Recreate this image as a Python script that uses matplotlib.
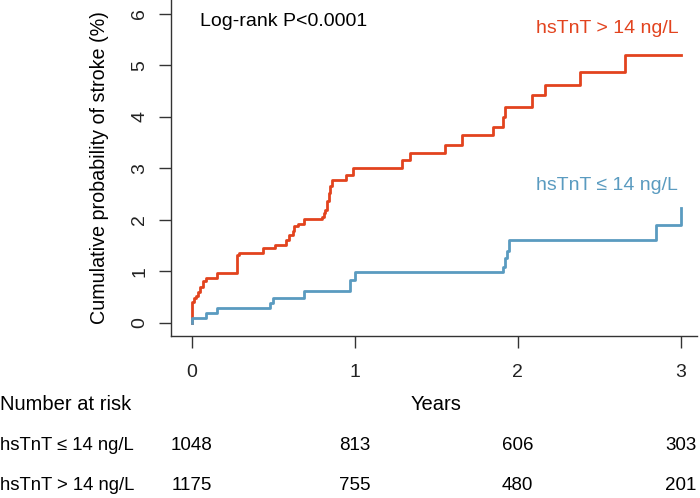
import matplotlib
matplotlib.use('Agg')
import matplotlib.pyplot as plt
import matplotlib.transforms as mtransforms

plt.rcParams['font.family'] = ['Liberation Sans', 'DejaVu Sans']

# cumulative incidence (%), step points
red_t = [0, 0.005, 0.015, 0.03, 0.04, 0.05, 0.07, 0.09, 0.155, 0.28, 0.29, 0.44, 0.51,
         0.58, 0.60, 0.62, 0.63, 0.65, 0.69, 0.80, 0.81, 0.82, 0.83, 0.84, 0.85, 0.86,
         0.95, 0.99, 1.29, 1.34, 1.555, 1.66, 1.85, 1.91, 1.92, 2.09, 2.17, 2.38, 2.66, 3.0]
red_p = [0, 0.41, 0.48, 0.52, 0.60, 0.70, 0.80, 0.87, 0.96, 1.32, 1.36, 1.45, 1.51,
         1.61, 1.71, 1.78, 1.87, 1.92, 2.01, 2.06, 2.13, 2.19, 2.36, 2.52, 2.65, 2.78,
         2.87, 3.0, 3.17, 3.29, 3.46, 3.65, 3.81, 4.0, 4.2, 4.43, 4.62, 4.88, 5.2, 5.2]

blue_t = [0, 0.005, 0.09, 0.155, 0.48, 0.50, 0.69, 0.97, 1.0, 1.91, 1.925, 1.935, 1.95, 2.85, 3.0]
blue_p = [0, 0.09, 0.19, 0.29, 0.38, 0.48, 0.61, 0.83, 0.98, 1.08, 1.25, 1.40, 1.61, 1.90, 2.23]

years = [0, 1, 2, 3]
risk_low = [1048, 813, 606, 303]
risk_high = [1175, 755, 480, 201]
label_low = 'hsTnT \u2264 14 ng/L'
label_high = 'hsTnT > 14 ng/L'

red = '#E2431E'
blue = '#5A9BC0'
dark = '#222222'

fig = plt.figure(figsize=(7, 4.98), dpi=100)
ax = fig.add_axes([171 / 700, 1 - 336 / 498, 526 / 700, 336 / 498])

ax.plot(red_t, red_p, drawstyle='steps-post', color=red, lw=2.0)
ax.plot(blue_t, blue_p, drawstyle='steps-post', color=blue, lw=2.0)

ax.set_xlim(-0.126, 3.10)
ax.set_ylim(-0.26, 6.27)
ax.set_xticks(years)
ax.set_yticks(range(0, 7))
ax.tick_params(axis='both', length=8.5, width=1.0, color='#333333', labelsize=14, labelcolor=dark)
ax.tick_params(axis='x', pad=12)
ax.tick_params(axis='y', pad=8)
for lab in ax.get_yticklabels():
    lab.set_rotation(90)
    lab.set_va('center')
for s in ['top', 'right']:
    ax.spines[s].set_visible(False)
for s in ['left', 'bottom']:
    ax.spines[s].set_color('#333333')
    ax.spines[s].set_linewidth(1.0)

ax.set_ylabel('Cumulative probability of stroke (%)', fontsize=14.2, color='black')
ax.yaxis.set_label_coords(-0.118, 0.5)

ax.text(0.055, 0.937, 'Log-rank P<0.0001', transform=ax.transAxes, fontsize=14,
        ha='left', va='center')
ax.text(2.985, 5.72, label_high, color=red, fontsize=14, ha='right', va='center')
ax.text(2.985, 2.67, label_low, color=blue, fontsize=14, ha='right', va='center')

# number-at-risk table below the axes
trans = mtransforms.blended_transform_factory(ax.transData, fig.transFigure)
fig.text(0.0, 1 - 404 / 498, 'Number at risk', fontsize=14.5, ha='left', va='center')
fig.text(0.0, 1 - 445 / 498, label_low, fontsize=13.3, ha='left', va='center')
fig.text(0.0, 1 - 485 / 498, label_high, fontsize=13.3, ha='left', va='center')
ax.text(1.5, 1 - 404 / 498, 'Years', transform=trans, fontsize=14.5, ha='center', va='center')
for x, a, b in zip(years, risk_low, risk_high):
    ax.text(x, 1 - 445 / 498, str(a), transform=trans, fontsize=13.5, ha='center', va='center')
    ax.text(x, 1 - 485 / 498, str(b), transform=trans, fontsize=13.5, ha='center', va='center')

fig.savefig('out.png', dpi=100)
